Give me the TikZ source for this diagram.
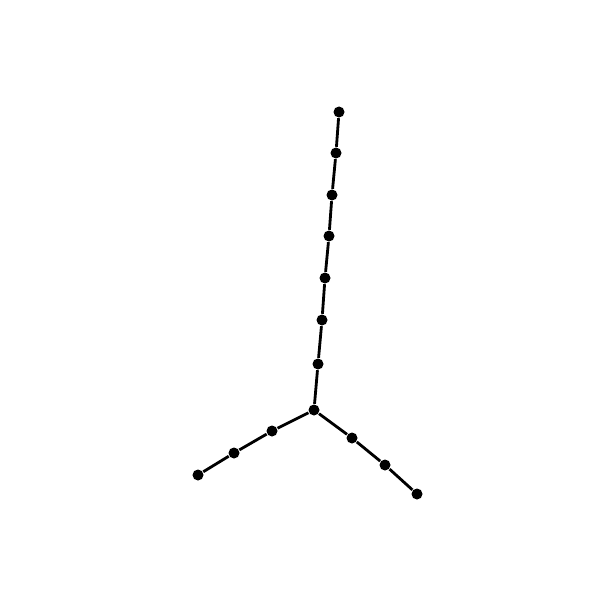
\documentclass[tikz,border=0pt]{standalone}
\usepackage{tikz}

\tikzset{vtx/.style={circle,fill=black,inner sep=0pt,minimum size=0.11cm}}

\begin{document}
\begin{tikzpicture}[x=0.01cm,y=-0.01cm]
        \useasboundingbox (0,0) rectangle (600,600);
        \node[vtx](O) at (314,410) {};
        \node[vtx](T1) at (318,364) {};
        \node[vtx](T2) at (322,320) {};
        \node[vtx](T3) at (325,278) {};
        \node[vtx](T4) at (329,236) {};
        \node[vtx](T5) at (332,195) {};
        \node[vtx](T6) at (336,153) {};
        \node[vtx](T7) at (339,112) {};
        \node[vtx](L1) at (272,431) {};
        \node[vtx](L2) at (234,453) {};
        \node[vtx](L3) at (198,475) {};
        \node[vtx](R1) at (352,438) {};
        \node[vtx](R2) at (385,465) {};
        \node[vtx](R3) at (417,494) {};
        \draw[line width=0.8pt](O)--(T1)--(T2)--(T3)--(T4)--(T5)--(T6)--(T7);
        \draw[line width=0.8pt](O)--(L1)--(L2)--(L3);
        \draw[line width=0.8pt](O)--(R1)--(R2)--(R3);
    \end{tikzpicture}
\end{document}
